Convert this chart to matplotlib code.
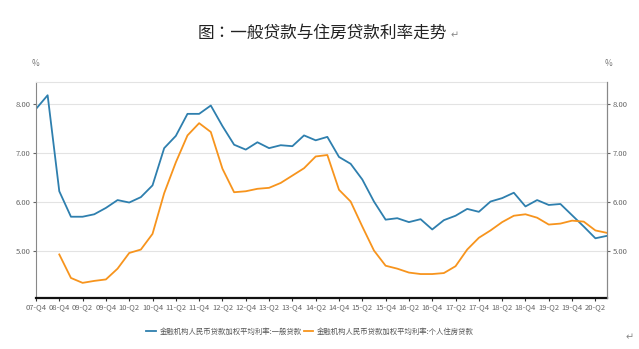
import matplotlib.pyplot as plt

plt.rcParams["font.family"] = ["Noto Sans CJK SC", "DejaVu Sans"]

# quarterly categories: 07-Q4, then 08-Q3 onward to 20-Q3
quarters = ["07-Q4"]
for yr in range(8, 21):
    for q in range(1, 5):
        if yr == 8 and q < 3:
            continue
        if yr == 20 and q > 3:
            continue
        quarters.append("%02d-Q%d" % (yr, q))

general = [7.90, 8.18, 6.22, 5.70, 5.70, 5.75, 5.88, 6.04, 5.99, 6.10,
           6.34, 7.10, 7.35, 7.80, 7.80, 7.97, 7.55, 7.17, 7.07, 7.22,
           7.10, 7.16, 7.14, 7.36, 7.26, 7.33, 6.92, 6.78, 6.46, 6.01,
           5.64, 5.67, 5.59, 5.65, 5.44, 5.63, 5.72, 5.86, 5.80, 6.01,
           6.08, 6.19, 5.91, 6.04, 5.94, 5.96, 5.73, 5.50, 5.26, 5.31]

housing = [None, None, 4.93, 4.45, 4.35, 4.39, 4.42, 4.64, 4.96, 5.03,
           5.35, 6.18, 6.81, 7.36, 7.61, 7.43, 6.68, 6.20, 6.22, 6.27,
           6.29, 6.39, 6.54, 6.69, 6.93, 6.96, 6.25, 6.01, 5.50, 5.01,
           4.70, 4.64, 4.56, 4.53, 4.53, 4.55, 4.69, 5.03, 5.27, 5.42,
           5.59, 5.72, 5.75, 5.68, 5.54, 5.56, 5.62, 5.60, 5.42, 5.37]

yticks = [5, 6, 7, 8]

blue = "#2e7fae"
orange = "#f7941d"

fig = plt.figure(figsize=(6.39, 3.49), dpi=100)
ax = fig.add_axes([0.0563, 0.146, 0.8937, 0.619])

x = list(range(len(quarters)))
hx = [i for i, v in zip(x, housing) if v is not None]
hv = [v for v in housing if v is not None]

ax.plot(x, general, color=blue, lw=1.3, label="金融机构人民币贷款加权平均利率:一般贷款")
ax.plot(hx, hv, color=orange, lw=1.3, label="金融机构人民币贷款加权平均利率:个人住房贷款")

ax.set_xlim(0, len(quarters) - 1)
ax.set_ylim(4.04, 8.45)
ax.set_yticks(yticks)
ax.set_yticklabels(["%.2f" % v for v in yticks])
ax.set_xticks(x[::2])
ax.set_xticklabels(quarters[::2])
ax.yaxis.grid(True, color="#e3e3e3", lw=0.8)
ax.set_axisbelow(True)

ax.spines["top"].set_color("#e3e3e3")
ax.spines["left"].set_color("#888888")
ax.spines["right"].set_color("#888888")
ax.spines["bottom"].set_color("#111111")
ax.spines["bottom"].set_linewidth(1.6)
ax.tick_params(axis="both", labelsize=5.5, colors="#666666", length=2.5, pad=1.5)
ax.tick_params(axis="x", color="#333333")

ax2 = ax.twinx()
ax2.set_ylim(ax.get_ylim())
ax2.set_yticks(yticks)
ax2.set_yticklabels(["%.2f" % v for v in yticks])
ax2.tick_params(axis="y", labelsize=5.5, colors="#666666", length=2.5, pad=1.5)
for s in ["top", "left", "bottom"]:
    ax2.spines[s].set_visible(False)
ax2.spines["right"].set_color("#888888")

fig.text(0.056, 0.81, "%", fontsize=6, color="#777777", ha="center")
fig.text(0.953, 0.81, "%", fontsize=6, color="#777777", ha="center")

fig.text(0.505, 0.905, "图：一般贷款与住房贷款利率走势", fontsize=12, color="#222222",
         ha="center", va="center", family=["Noto Sans CJK JP", "DejaVu Sans"])
fig.text(0.705, 0.898, "↵", fontsize=7, color="#888888", family="DejaVu Sans",
         ha="left", va="center")
fig.text(0.986, 0.034, "↵", fontsize=7, color="#888888", family="DejaVu Sans",
         ha="center", va="center")

fig.legend(loc="center", bbox_to_anchor=(0.485, 0.049), ncol=2, frameon=False,
           fontsize=5.3, handlelength=1.3, handletextpad=0.5, columnspacing=0.3,
           labelcolor="#555555")

fig.savefig("out.png", dpi=100)
